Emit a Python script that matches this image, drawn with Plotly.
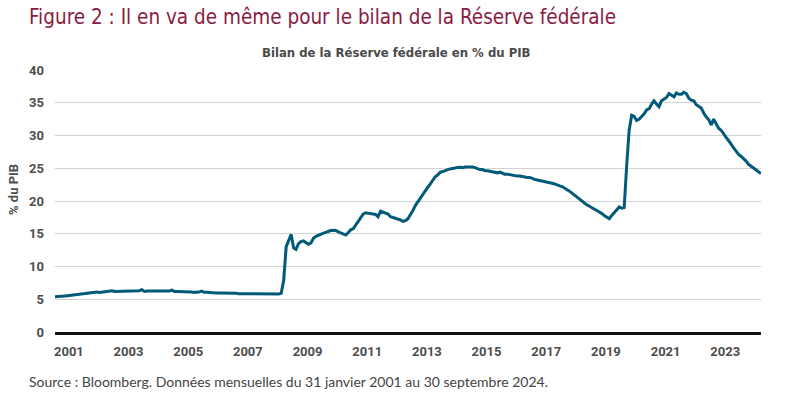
import pandas as pd
import plotly.graph_objects as go

# Monthly Fed balance sheet as % of GDP, Jan 2001 .. Sep 2024
vals_2001 = [5.4, 5.4, 5.45, 5.5, 5.5, 5.55, 5.6, 5.65, 5.7, 5.75, 5.8, 5.9]
vals_2002 = [5.9, 5.95, 6.0, 6.0, 6.05, 6.1, 6.05, 6.1, 6.15, 6.15, 6.2, 6.3]
vals_2003 = [6.2, 6.2, 6.2, 6.25, 6.2, 6.25, 6.3, 6.25, 6.3, 6.3, 6.3, 6.45]
vals_2004 = [6.2, 6.25, 6.25, 6.3, 6.3, 6.3, 6.25, 6.3, 6.25, 6.2, 6.25, 6.4]
vals_2005 = [6.2, 6.2, 6.2, 6.15, 6.15, 6.1, 6.15, 6.1, 6.05, 6.05, 6.1, 6.25]
vals_2006 = [6.05, 6.05, 6.0, 6.0, 6.0, 5.95, 5.95, 5.95, 5.9, 5.9, 5.95, 6.0]
vals_2007 = [5.9, 5.9, 5.85, 5.85, 5.8, 5.8, 5.85, 5.8, 5.8, 5.75, 5.8, 5.85]
vals_2008 = [5.75, 5.75, 5.8, 5.75, 5.75, 5.75, 5.8, 5.9, 7.8, 13.0, 13.9, 14.9]
vals_2009 = [12.8, 12.6, 13.5, 13.8, 13.9, 13.7, 13.4, 13.6, 14.3, 14.6, 14.8, 15.0]
vals_2010 = [15.1, 15.2, 15.4, 15.5, 15.55, 15.5, 15.3, 15.1, 15.0, 14.8, 15.2, 15.6]
vals_2011 = [15.8, 16.3, 16.8, 17.4, 18.0, 18.2, 18.1, 18.0, 18.0, 17.95, 17.6, 18.45]
vals_2012 = [18.3, 18.2, 18.0, 17.6, 17.5, 17.3, 17.2, 17.1, 16.9, 17.0, 17.3, 17.9]
vals_2013 = [18.6, 19.3, 19.9, 20.5, 21.1, 21.7, 22.1, 22.6, 23.1, 23.7, 24.0, 24.4]
vals_2014 = [24.5, 24.7, 24.8, 24.9, 25.0, 25.1, 25.1, 25.15, 25.1, 25.2, 25.2, 25.3]
vals_2015 = [25.2, 25.1, 24.9, 24.8, 24.8, 24.6, 24.6, 24.5, 24.5, 24.4, 24.3, 24.4]
vals_2016 = [24.2, 24.1, 24.1, 24.0, 23.9, 23.9, 23.8, 23.8, 23.7, 23.6, 23.6, 23.6]
vals_2017 = [23.4, 23.3, 23.2, 23.1, 23.0, 22.9, 22.9, 22.8, 22.7, 22.6, 22.4, 22.3]
vals_2018 = [22.2, 22.0, 21.8, 21.5, 21.2, 20.9, 20.6, 20.2, 19.9, 19.6, 19.4, 19.2]
vals_2019 = [19.0, 18.8, 18.6, 18.4, 18.1, 17.8, 17.5, 17.3, 17.8, 18.3, 18.7, 19.1]
vals_2020 = [18.9, 19.0, 25.5, 30.8, 33.1, 32.9, 32.3, 32.5, 32.9, 33.3, 33.9, 34.1]
vals_2021 = [34.8, 35.3, 34.8, 34.4, 35.3, 35.6, 35.8, 36.4, 36.1, 35.9, 36.5, 36.3]
vals_2022 = [36.3, 36.6, 36.4, 35.7, 35.4, 35.3, 34.7, 34.4, 34.2, 33.4, 32.8, 32.4]
vals_2023 = [31.6, 32.5, 31.8, 31.1, 30.8, 30.2, 29.7, 29.2, 28.6, 28.1, 27.6, 27.1]
vals_2024 = [26.8, 26.5, 26.1, 25.6, 25.3, 25.0, 24.7, 24.4, 24.2]

tick_labels = ["2001", "2003", "2005", "2007", "2009", "2011",
               "2013", "2015", "2017", "2019", "2021", "2023"]
y_ticks = [0, 5, 10, 15, 20, 25, 30, 35, 40]

values = (vals_2001 + vals_2002 + vals_2003 + vals_2004 + vals_2005 + vals_2006 +
          vals_2007 + vals_2008 + vals_2009 + vals_2010 + vals_2011 + vals_2012 +
          vals_2013 + vals_2014 + vals_2015 + vals_2016 + vals_2017 + vals_2018 +
          vals_2019 + vals_2020 + vals_2021 + vals_2022 + vals_2023 + vals_2024)
dates = pd.date_range("2001-01-31", periods=len(values), freq="ME")

W, H = 800, 398
L, R, T, B = 55, 800 - 761, 70, 398 - 332
pw, ph = W - L - R, H - T - B

def px_x(x):
    return (x - L) / pw

def px_y(y):
    return (H - B - y) / ph

fig = go.Figure()
fig.add_trace(go.Scatter(
    x=dates, y=values, mode="lines",
    line=dict(color="#005a78", width=3),
    hoverinfo="x+y", showlegend=False,
))

tick_font = dict(family="Roboto, Arial, sans-serif", size=13, color="#4d4d4d", weight="bold")

fig.update_layout(
    width=W, height=H,
    margin=dict(l=L, r=R, t=T, b=B),
    paper_bgcolor="white", plot_bgcolor="white",
    xaxis=dict(
        type="date",
        range=[dates[0], dates[-1]],
        tickvals=[f"{t}-07-20" for t in tick_labels],
        ticktext=tick_labels,
        showgrid=False, ticks="",
        showline=True, linecolor="#111111", linewidth=3,
        tickfont=tick_font,
        ticklabelstandoff=5,
    ),
    yaxis=dict(
        range=[0, 40],
        tickvals=y_ticks,
        ticktext=[str(v) for v in y_ticks],
        showgrid=True, gridcolor="#d2d2d2", gridwidth=1,
        zeroline=False, ticks="", showline=False,
        tickfont=tick_font,
        ticklabelstandoff=10,
    ),
    annotations=[
        dict(text="Figure 2 : Il en va de même pour le bilan de la Réserve fédérale",
             xref="paper", yref="paper", x=px_x(27), y=px_y(17),
             xanchor="left", yanchor="middle", showarrow=False,
             font=dict(family="Liberation Sans Narrow, DejaVu Sans Condensed, sans-serif",
                       size=20.5, color="#8a1c42")),
        dict(text="Bilan de la Réserve fédérale en % du PIB",
             xref="paper", yref="paper", x=px_x(396), y=px_y(52),
             xanchor="center", yanchor="middle", showarrow=False,
             font=dict(family="Liberation Sans Narrow, DejaVu Sans Condensed, sans-serif",
                       size=13, color="#4a4a4a", weight="bold")),
        dict(text="% du PIB",
             xref="paper", yref="paper", x=px_x(13), y=px_y(190),
             xanchor="center", yanchor="middle", showarrow=False, textangle=-90,
             font=dict(family="Roboto, Arial, sans-serif", size=13, color="#4d4d4d", weight="bold")),
        dict(text="Source : Bloomberg. Données mensuelles du 31 janvier 2001 au 30 septembre 2024.",
             xref="paper", yref="paper", x=px_x(27), y=px_y(381),
             xanchor="left", yanchor="middle", showarrow=False,
             font=dict(family="Lato, Roboto, sans-serif", size=14, color="#444444")),
    ],
)

# remove the browser's default 8px page margin so the figure fills the window exactly
fig.write_html("out.html", config={"displayModeBar": False},
               post_script="document.body.style.margin='0';")
